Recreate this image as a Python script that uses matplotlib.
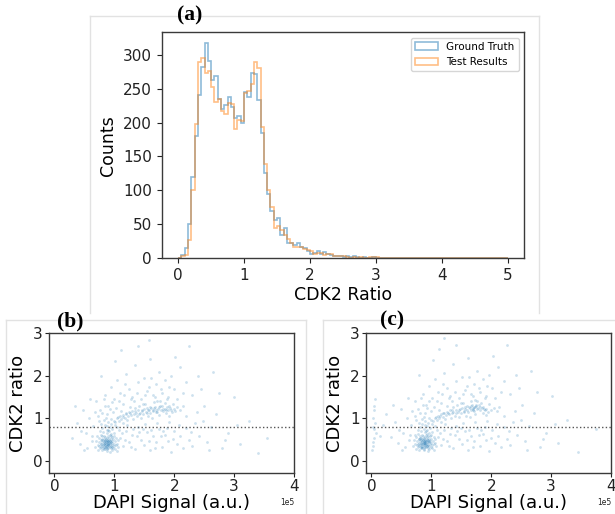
import numpy as np
import matplotlib
matplotlib.use("Agg")
import matplotlib.pyplot as plt
from matplotlib.lines import Line2D

# ---------------- data ----------------
bin_edges = [round(0.05 * i, 2) for i in range(101)]

ground_truth_counts = [
    0, 5, 15, 50, 120, 180, 240, 282, 317, 290,
    262, 268, 235, 220, 226, 237, 223, 207, 210, 200,
    245, 238, 273, 271, 233, 185, 126, 95, 70, 56,
    59, 34, 44, 23, 23, 20, 23, 17, 15, 11,
    7, 8, 11, 6, 10, 6, 5, 3, 4, 3,
    2, 3, 2, 3, 2, 1, 2, 1, 1, 2,
    1, 0, 1, 0, 0, 0, 0, 0, 0, 0,
    1, 0, 0, 0, 0, 0, 0, 0, 0, 0,
    0, 0, 1, 0, 0, 0, 0, 0, 0, 0,
    0, 0, 0, 0, 0, 0, 0, 0, 0, 0,
]
test_result_counts = [
    0, 3, 5, 27, 100, 198, 289, 295, 273, 276,
    252, 230, 234, 217, 212, 228, 227, 190, 204, 202,
    244, 247, 257, 289, 280, 193, 139, 101, 76, 45,
    47, 41, 34, 28, 22, 17, 17, 16, 13, 12,
    11, 7, 8, 8, 5, 6, 6, 4, 3, 3,
    3, 2, 1, 2, 1, 2, 1, 1, 2, 2,
    2, 1, 1, 0, 0, 0, 0, 0, 0, 0,
    0, 0, 0, 1, 0, 0, 0, 0, 0, 0,
    0, 0, 0, 0, 0, 0, 0, 0, 0, 0,
    0, 0, 0, 0, 0, 0, 0, 0, 0, 0,
]
hist_labels = ["Ground Truth", "Test Results"]

# scatter points: (DAPI signal in units of 1e5, CDK2 ratio)
scatter_b = [
    (0.72,0.38),(0.75,0.45),(0.78,0.33),(0.80,0.52),(0.82,0.41),(0.84,0.29),(0.85,0.47),(0.86,0.36),(0.88,0.55),(0.89,0.43),
    (0.90,0.31),(0.91,0.49),(0.92,0.39),(0.94,0.58),(0.95,0.44),(0.96,0.27),(0.98,0.51),(1.00,0.35),(1.02,0.46),(1.05,0.40),
    (0.74,0.55),(0.77,0.62),(0.79,0.25),(0.81,0.68),(0.83,0.59),(0.87,0.24),(0.88,0.66),(0.90,0.72),(0.93,0.22),(0.95,0.64),
    (0.97,0.37),(0.99,0.60),(1.01,0.28),(1.03,0.55),(1.07,0.33),(0.70,0.47),(0.76,0.30),(0.80,0.44),(0.84,0.50),(0.87,0.40),
    (0.83,0.34),(0.86,0.45),(0.89,0.37),(0.91,0.42),(0.85,0.56),(0.82,0.47),(0.93,0.48),(0.78,0.41),(0.96,0.42),(0.88,0.30),
    (0.92,0.33),(0.81,0.37),(0.84,0.42),(0.87,0.50),(0.90,0.38),(0.86,0.32),(0.79,0.49),(0.94,0.36),(0.97,0.46),(0.89,0.48),
    (0.68,0.33),(0.73,0.26),(0.76,0.70),(0.92,0.62),(1.00,0.66),(1.04,0.24),(0.98,0.30),(0.82,0.28),(0.71,0.60),(1.06,0.50),
    (0.77,0.39),(0.80,0.35),(0.83,0.45),(0.85,0.38),(0.87,0.44),(0.88,0.36),(0.90,0.46),(0.91,0.35),(0.93,0.43),(0.86,0.41),
    (0.84,0.33),(0.89,0.40),(0.92,0.47),(0.82,0.52),(0.95,0.52),(0.81,0.31),(0.94,0.30),(0.78,0.50),(0.99,0.41),(0.86,0.53),
    (0.83,0.39),(0.88,0.46),(0.91,0.54),(0.96,0.34),(0.80,0.58),(0.75,0.36),(1.03,0.38),(0.97,0.56),(0.87,0.28),(0.90,0.60),
    (0.80,0.78),(0.84,0.85),(0.87,0.74),(0.89,0.92),(0.92,0.80),(0.94,0.88),(0.97,0.76),(0.99,0.95),(0.83,0.97),(0.86,1.02),
    (0.91,0.70),(0.95,0.99),(1.01,0.84),(0.78,0.88),(0.88,0.82),
    (1.02,0.92),(1.05,1.00),(1.08,0.95),(1.10,1.05),(1.12,0.98),(1.15,1.08),(1.18,1.02),(1.20,1.12),(1.23,1.06),(1.25,1.15),
    (1.28,1.09),(1.30,1.18),(1.33,1.11),(1.36,1.14),(1.38,1.05),(1.40,1.20),(1.43,1.13),(1.46,1.17),(1.48,1.10),(1.50,1.22),
    (1.53,1.16),(1.55,1.25),(1.58,1.19),(1.60,1.13),(1.62,1.24),(1.65,1.18),(1.68,1.28),(1.70,1.21),(1.72,1.15),(1.75,1.26),
    (1.78,1.20),(1.80,1.30),(1.82,1.17),(1.85,1.23),(1.88,1.27),(1.90,1.19),(1.93,1.24),(1.96,1.15),(2.00,1.22),(2.05,1.28),
    (2.10,1.20),(2.14,1.30),
    (1.07,1.03),(1.14,1.03),(1.19,1.10),(1.27,1.12),(1.34,1.17),(1.41,1.10),(1.47,1.21),(1.54,1.12),(1.59,1.27),(1.64,1.21),
    (1.69,1.16),(1.73,1.23),(1.77,1.29),(1.81,1.22),(1.86,1.19),(1.91,1.29),(1.95,1.21),(2.02,1.18),(1.67,1.25),(1.56,1.20),
    (1.12,1.18),(1.22,0.96),(1.35,1.25),(1.45,1.02),(1.52,1.35),(1.57,1.05),(1.66,1.38),(1.74,1.08),(1.84,1.36),(1.92,1.06),
    (1.98,1.34),(1.26,1.28),(1.42,1.30),(1.63,1.02),(1.76,1.40),(1.15,0.90),(1.32,0.98),(1.87,1.12),
    (1.10,0.55),(1.15,0.35),(1.20,0.70),(1.25,0.45),(1.30,0.62),(1.35,0.28),(1.40,0.80),(1.45,0.50),(1.50,0.38),(1.55,0.68),
    (1.60,0.25),(1.65,0.58),(1.70,0.44),(1.75,0.75),(1.80,0.33),(1.85,0.62),(1.90,0.48),(1.95,0.22),(2.00,0.70),(2.05,0.40),
    (2.10,0.58),(2.15,0.30),(2.20,0.78),(2.25,0.50),(1.08,0.72),(1.18,0.50),(1.28,0.33),(1.38,0.60),(1.48,0.75),(1.58,0.47),
    (1.68,0.30),(1.78,0.60),(1.88,0.78),(1.98,0.52),(2.08,0.85),
    (1.05,0.80),(1.13,0.65),(1.22,0.85),(1.32,0.75),(1.42,0.68),(1.52,0.88),(1.62,0.72),(1.72,0.90),(1.82,0.70),(1.92,0.92),
    (1.03,1.25),(1.08,1.40),(1.17,1.55),(1.28,1.45),(1.38,1.60),(1.48,1.35),(1.58,1.75),(1.68,1.50),(1.78,1.70),(1.88,1.45),
    (0.70,1.40),(0.85,1.55),(0.95,1.75),(1.00,1.45),(1.05,1.90),(1.10,1.60),(1.15,1.35),(1.20,2.05),(1.25,1.70),(1.30,1.50),
    (1.35,2.25),(1.40,1.85),(1.45,1.45),(1.50,1.95),(1.55,1.65),(1.60,2.40),(1.65,1.55),(1.70,1.80),(1.75,2.10),(1.80,1.60),
    (1.85,1.90),(1.90,1.50),(1.95,2.00),(2.00,1.70),(2.05,1.45),(2.10,2.20),(2.15,1.60),(2.20,1.85),(2.30,1.55),(2.40,2.00),
    (0.90,1.30),(1.02,2.35),(1.18,1.80),(1.33,1.40),(1.52,1.55),(1.62,1.95),(1.72,1.42),(1.92,1.75),(2.02,2.45),(1.12,2.60),
    (1.40,2.70),(0.78,2.00),(1.58,2.85),
    (0.30,0.55),(0.38,0.90),(0.42,0.40),(0.48,1.20),(0.52,0.65),(0.55,0.30),(0.58,1.00),(0.62,0.48),(0.65,0.82),(0.60,1.45),
    (0.45,0.70),(0.67,1.15),(0.35,1.30),(0.50,0.25),(0.63,0.60),
    (0.72,1.05),(0.76,1.20),(0.80,1.12),(0.85,1.30),(0.88,1.10),(0.92,1.22),(0.96,1.38),(0.74,0.95),(0.98,1.15),(0.82,1.45),
    (2.30,0.35),(2.35,0.90),(2.42,0.60),(2.50,1.30),(2.55,0.45),(2.62,0.80),(2.70,1.10),(2.80,0.30),(2.90,0.65),(3.00,1.50),
    (3.10,0.40),(3.25,0.95),(3.40,0.20),(2.45,1.70),(2.65,2.10),(2.25,2.70),(3.55,0.55),(2.38,1.15),(2.58,0.25),(2.75,1.60),
    (2.85,0.50),(3.05,0.85),(2.20,1.05),(2.28,0.68),(2.48,0.95),
]
scatter_c = [
    (0.73,0.40),(0.76,0.47),(0.79,0.35),(0.81,0.54),(0.83,0.43),(0.85,0.31),(0.86,0.49),(0.87,0.38),(0.89,0.57),(0.90,0.45),
    (0.91,0.33),(0.92,0.51),(0.93,0.41),(0.95,0.60),(0.96,0.46),(0.97,0.29),(0.99,0.53),(1.01,0.37),(1.03,0.48),(1.06,0.42),
    (0.75,0.57),(0.78,0.64),(0.80,0.27),(0.82,0.70),(0.84,0.61),(0.88,0.26),(0.89,0.68),(0.91,0.71),(0.94,0.24),(0.96,0.66),
    (0.98,0.39),(1.00,0.62),(1.02,0.30),(1.04,0.57),(1.08,0.35),(0.71,0.49),(0.77,0.32),(0.81,0.46),(0.85,0.52),(0.88,0.42),
    (0.84,0.36),(0.87,0.47),(0.90,0.39),(0.92,0.44),(0.86,0.58),(0.83,0.49),(0.94,0.50),(0.79,0.43),(0.97,0.44),(0.89,0.32),
    (0.93,0.35),(0.82,0.39),(0.85,0.44),(0.88,0.52),(0.91,0.40),(0.87,0.34),(0.80,0.51),(0.95,0.38),(0.98,0.48),(0.90,0.50),
    (0.69,0.35),(0.74,0.28),(0.77,0.72),(0.93,0.64),(1.01,0.68),(1.05,0.26),(0.99,0.32),(0.83,0.30),(0.72,0.62),(1.07,0.52),
    (0.78,0.41),(0.81,0.37),(0.84,0.47),(0.86,0.40),(0.88,0.45),(0.89,0.37),(0.91,0.48),(0.92,0.36),(0.94,0.44),(0.87,0.42),
    (0.85,0.34),(0.90,0.42),(0.93,0.49),(0.83,0.54),(0.96,0.53),(0.82,0.32),(0.95,0.31),(0.79,0.52),(1.00,0.43),(0.87,0.55),
    (0.84,0.40),(0.89,0.47),(0.92,0.56),(0.97,0.36),(0.81,0.60),(0.76,0.38),(1.04,0.40),(0.98,0.58),(0.88,0.29),(0.91,0.62),
    (0.81,0.80),(0.85,0.87),(0.88,0.76),(0.90,0.94),(0.93,0.82),(0.95,0.90),(0.98,0.78),(1.00,0.97),(0.84,0.99),(0.87,1.04),
    (0.92,0.73),(0.96,1.01),(1.02,0.86),(0.79,0.90),(0.89,0.84),
    (1.03,0.94),(1.06,1.02),(1.09,0.97),(1.11,1.07),(1.13,1.00),(1.16,1.10),(1.19,1.04),(1.21,1.13),(1.24,1.08),(1.26,1.16),
    (1.29,1.10),(1.31,1.19),(1.34,1.12),(1.37,1.16),(1.39,1.07),(1.41,1.21),(1.44,1.15),(1.47,1.19),(1.49,1.12),(1.51,1.24),
    (1.54,1.18),(1.56,1.27),(1.59,1.21),(1.61,1.15),(1.63,1.27),(1.66,1.21),(1.68,1.31),(1.70,1.24),(1.72,1.18),(1.74,1.29),
    (1.76,1.22),(1.79,1.32),(1.81,1.19),(1.84,1.25),(1.87,1.28),(1.89,1.20),(1.92,1.23),(1.95,1.16),(1.99,1.21),(2.04,1.25),
    (2.09,1.17),(2.13,1.26),
    (1.08,1.04),(1.15,1.05),(1.20,1.12),(1.28,1.14),(1.35,1.19),(1.42,1.12),(1.48,1.23),(1.55,1.15),(1.60,1.29),(1.65,1.24),
    (1.70,1.19),(1.71,1.27),(1.75,1.32),(1.69,1.22),(1.73,1.26),(1.78,1.25),(1.82,1.28),(1.88,1.23),(1.66,1.30),(1.57,1.22),
    (1.13,1.20),(1.23,0.98),(1.36,1.27),(1.46,1.04),(1.53,1.37),(1.58,1.07),(1.67,1.40),(1.73,1.10),(1.83,1.37),(1.91,1.08),
    (1.97,1.33),(1.27,1.30),(1.43,1.32),(1.64,1.04),(1.77,1.42),(1.16,0.92),(1.33,1.00),(1.86,1.13),
    (1.11,0.57),(1.16,0.37),(1.21,0.72),(1.26,0.47),(1.31,0.64),(1.36,0.30),(1.41,0.82),(1.46,0.52),(1.51,0.40),(1.56,0.70),
    (1.61,0.27),(1.66,0.60),(1.71,0.46),(1.76,0.77),(1.81,0.35),(1.86,0.64),(1.91,0.50),(1.96,0.24),(2.01,0.72),(2.06,0.42),
    (2.11,0.60),(2.16,0.32),(2.21,0.80),(2.26,0.52),(1.09,0.74),(1.19,0.52),(1.29,0.35),(1.39,0.62),(1.49,0.77),(1.59,0.49),
    (1.69,0.32),(1.79,0.62),(1.89,0.80),(1.99,0.54),(2.09,0.87),
    (1.06,0.82),(1.14,0.67),(1.23,0.87),(1.33,0.77),(1.43,0.70),(1.53,0.90),(1.63,0.74),(1.73,0.92),(1.83,0.72),(1.93,0.94),
    (1.04,1.27),(1.09,1.42),(1.18,1.57),(1.29,1.47),(1.39,1.62),(1.49,1.37),(1.59,1.77),(1.69,1.52),(1.79,1.72),(1.89,1.47),
    (0.72,1.42),(0.86,1.57),(0.96,1.77),(1.01,1.47),(1.06,1.92),(1.11,1.62),(1.16,1.37),(1.21,2.07),(1.26,1.72),(1.31,1.52),
    (1.36,2.27),(1.41,1.87),(1.46,1.47),(1.51,1.97),(1.56,1.67),(1.61,2.42),(1.66,1.57),(1.71,1.82),(1.76,2.12),(1.81,1.62),
    (1.86,1.92),(1.91,1.52),(1.96,2.02),(2.01,1.72),(2.06,1.47),(2.11,2.22),(2.16,1.62),(2.21,1.87),(2.31,1.57),(2.41,2.02),
    (0.91,1.32),(1.03,2.37),(1.19,1.82),(1.34,1.42),(1.53,1.57),(1.63,1.97),(1.73,1.44),(1.93,1.77),(2.03,2.47),(1.13,2.62),
    (1.42,2.72),(0.79,2.02),(1.22,2.88),
    (0.02,0.35),(0.03,0.80),(0.05,1.20),(0.04,0.55),(0.06,1.45),(0.02,1.00),(0.07,0.65),(0.01,0.25),(0.04,1.30),(0.06,0.90),
    (0.03,0.45),(0.05,0.75),
    (0.32,0.57),(0.40,0.92),(0.44,0.42),(0.49,1.22),(0.53,0.67),(0.56,0.32),(0.59,1.02),(0.63,0.50),(0.66,0.84),(0.61,1.47),
    (0.46,0.72),(0.68,1.17),(0.36,1.32),(0.51,0.27),(0.64,0.62),(0.20,0.85),(0.25,1.10),(0.15,0.60),
    (0.73,1.07),(0.77,1.22),(0.81,1.14),(0.86,1.32),(0.89,1.12),(0.93,1.24),(0.97,1.40),(0.75,0.97),(0.99,1.17),(0.83,1.47),
    (2.31,0.37),(2.36,0.92),(2.43,0.62),(2.51,1.32),(2.56,0.47),(2.63,0.82),(2.71,1.12),(2.81,0.32),(2.91,0.67),(3.01,1.52),
    (3.11,0.42),(3.26,0.97),(3.45,0.22),(2.46,1.72),(2.66,2.12),(2.26,2.72),(3.75,0.75),(2.39,1.17),(2.59,0.27),(2.76,1.62),
    (2.86,0.52),(3.06,0.87),(2.21,1.07),(2.29,0.70),(2.49,0.97),
]
threshold = 0.8
panel_labels = ["(a)", "(b)", "(c)"]

# ---------------- figure ----------------
W, H = 615, 514
fig = plt.figure(figsize=(W / 100, H / 100), dpi=100)
fig.patch.set_facecolor("white")

spine_col = "#3a3a3a"

def px(x0, y0, x1, y1):
    return [x0 / W, 1 - y1 / H, (x1 - x0) / W, (y1 - y0) / H]

def style(ax, tick_size, pad=3.5, length=3.5):
    for s in ax.spines.values():
        s.set_color(spine_col)
        s.set_linewidth(1.0)
    ax.tick_params(colors="#222222", labelsize=tick_size, length=length,
                   width=0.8, pad=pad)

# light frame lines of the composite
frame_col = "#e2e2e2"
def fline(xs, ys):
    fig.add_artist(Line2D([x / W for x in xs], [1 - y / H for y in ys],
                          color=frame_col, lw=1.0, transform=fig.transFigure))

fline([90, 539], [16, 16]); fline([90, 90], [16, 313]); fline([539, 539], [16, 313])
fline([6, 306], [320, 320]); fline([6, 6], [320, 514]); fline([306, 306], [320, 514])
fline([323, 615], [320, 320]); fline([323, 323], [320, 514])

# ---- (a) histogram ----
ax_a = fig.add_axes(px(161.7, 32.3, 524, 258.3))
edges = np.array(bin_edges)
centers = (edges[:-1] + edges[1:]) / 2
ax_a.hist(centers, bins=edges, weights=ground_truth_counts, histtype="step",
          color="C0", alpha=0.5, lw=1.2, label=hist_labels[0])
ax_a.hist(centers, bins=edges, weights=test_result_counts, histtype="step",
          color="C1", alpha=0.5, lw=1.2, label=hist_labels[1])
ax_a.set_xticks([0, 1, 2, 3, 4, 5])
ax_a.set_yticks([0, 50, 100, 150, 200, 250, 300])
style(ax_a, 11)
ax_a.set_xlabel("CDK2 Ratio", fontsize=12.5, labelpad=2)
ax_a.set_ylabel("Counts", fontsize=12.5, labelpad=4)
ax_a.legend(loc="upper right", fontsize=7.5, handlelength=2.2)

# ---- (b), (c) scatter ----
def scatter_panel(rect, pts):
    ax = fig.add_axes(rect)
    arr = np.array(pts)
    ax.scatter(arr[:, 0] * 1e5, arr[:, 1], s=4, color="C0", alpha=0.22, lw=0)
    ax.axhline(threshold, color="#555555", ls=":", lw=1.0)
    ax.set_xlim(-0.09e5, 4.0e5)
    ax.set_ylim(-0.28, 3.0)
    ax.set_xticks([0, 1e5, 2e5, 3e5, 4e5])
    ax.set_yticks([0, 1, 2, 3])
    ax.ticklabel_format(axis="x", style="sci", scilimits=(0, 0))
    style(ax, 11, pad=1.5, length=3)
    ax.xaxis.get_offset_text().set_fontsize(5.5)
    ax.set_xlabel("DAPI Signal (a.u.)", fontsize=13, labelpad=0)
    ax.set_ylabel("CDK2 ratio", fontsize=13, labelpad=4)
    return ax

ax_b = scatter_panel(px(49, 333.3, 294, 473), scatter_b)
ax_c = scatter_panel(px(366, 333.3, 611, 473), scatter_c)

lab_kw = dict(fontsize=15.5, fontweight="bold", family="Liberation Serif",
              ha="center", va="center")
fig.text(190 / W, 1 - 15 / H, panel_labels[0], **lab_kw)
fig.text(70 / W, 1 - 321 / H, panel_labels[1], **lab_kw)
fig.text(392 / W, 1 - 320 / H, panel_labels[2], **lab_kw)

fig.savefig("out.png", dpi=100, facecolor="white")
